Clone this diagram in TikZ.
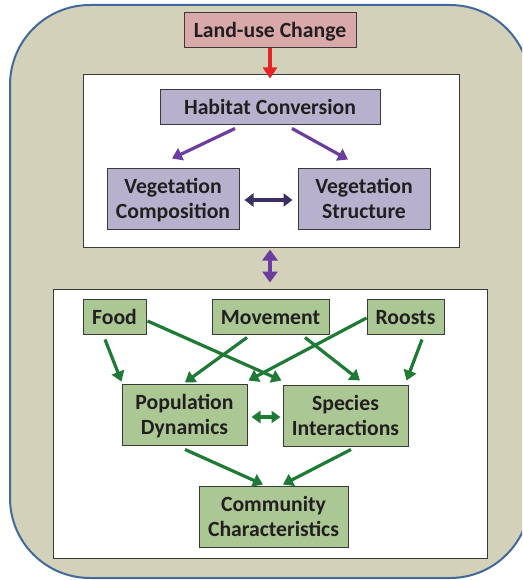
\documentclass[tikz,border=0pt]{standalone}
\usepackage{fontspec}
\setmainfont{Carlito}
\usetikzlibrary{calc,arrows.meta}
\definecolor{bgc}{HTML}{D3D1BA}
\definecolor{bordc}{HTML}{41699A}
\definecolor{pinkc}{HTML}{D9A9A9}
\definecolor{lavc}{HTML}{B8B1CD}
\definecolor{greenc}{HTML}{ABC793}
\definecolor{garc}{HTML}{1F7A35}
\definecolor{purc}{HTML}{6A3D9E}
\definecolor{navc}{HTML}{3A2F60}
\definecolor{redc}{HTML}{E62428}
\definecolor{boxb}{HTML}{3A3A3A}
\definecolor{txtc}{HTML}{231F20}
\newcommand{\boxtext}[1]{\raisebox{-2.5pt}[\height][\depth]{\begin{tabular}{@{}c@{}}#1\end{tabular}}}
\tikzset{
  x=1pt,y=-1pt,
  txt/.style={font=\fontsize{21.7}{25}\selectfont\bfseries, text=txtc, inner sep=0pt},
  gbox/.style={txt, draw=boxb, line width=1pt, fill=greenc},
  pbox/.style={txt, draw=boxb, line width=1pt, fill=lavc},
  wbox/.style={draw=boxb, line width=1pt, fill=white, inner sep=0pt},
  garrow/.style={draw=garc, line width=3.2pt, -{Triangle[length=10pt,width=13pt]}},
  gdarrow/.style={draw=garc, line width=3.2pt, {Triangle[length=9pt,width=12pt]}-{Triangle[length=9pt,width=12pt]}},
  parrow/.style={draw=purc, line width=3.2pt, -{Triangle[length=10pt,width=13pt]}},
}
\begin{document}
\begin{tikzpicture}
\useasboundingbox (0,0) rectangle (522,580);
\begin{scope}
\clip (0,0) rectangle (522,580);
\draw[fill=bgc, draw=bordc, line width=2pt, rounded corners=80pt] (10,5) rectangle (530,578);
\end{scope}
% boxes
\node[wbox, minimum width=376pt, minimum height=172pt] (topbox) at (271,161) {};
\node[wbox, minimum width=434pt, minimum height=269pt] (botbox) at (270,423.5) {};
\node[txt, draw=boxb, line width=1pt, fill=pinkc, minimum width=172pt, minimum height=35pt] (land) at (270,30.5) {\boxtext{Land-use Change}};
\node[pbox, minimum width=220pt, minimum height=35pt] (hab) at (270,107.5) {\boxtext{Habitat Conversion}};
\node[pbox, minimum width=132pt, minimum height=61pt] (vcomp) at (173,198.5) {\boxtext{Vegetation\\Composition}};
\node[pbox, minimum width=132pt, minimum height=61pt] (vstr) at (364,198.5) {\boxtext{Vegetation\\Structure}};
\node[gbox, minimum width=63pt, minimum height=35pt] (food) at (114.5,316.5) {\boxtext{Food}};
\node[gbox, minimum width=117pt, minimum height=35pt] (move) at (270.5,316.5) {\boxtext{Movement}};
\node[gbox, minimum width=77pt, minimum height=35pt] (roost) at (405.5,316.5) {\boxtext{Roosts}};
\node[gbox, minimum width=125pt, minimum height=61pt] (pop) at (184.5,414.5) {\boxtext{Population\\Dynamics}};
\node[gbox, minimum width=125pt, minimum height=61pt] (spec) at (345.5,415.5) {\boxtext{Species\\Interactions}};
\node[gbox, minimum width=149pt, minimum height=61pt] (comm) at (273.5,516.5) {\boxtext{Community\\Characteristics}};
% top arrows
\draw[draw=redc, line width=3.4pt, -{Triangle[length=11pt,width=14pt]}] (land.south) -- ($(land.south |- topbox.north)+(0,4)$);
\draw[parrow] ($(hab.south)+(-35,3)$) -- ($(vcomp.north)+(-1,-9)$);
\draw[parrow] ($(hab.south)+(22,3)$) -- ($(vstr.north)+(-16,-8)$);
\draw[draw=navc, line width=3.2pt, {Triangle[length=9pt,width=13pt]}-{Triangle[length=9pt,width=13pt]}] ($(vcomp.east)+(5,1.5)$) -- ($(vstr.west)+(-5,1.5)$);
\draw[draw=purc, line width=4.5pt, {Triangle[length=11pt,width=15pt]}-{Triangle[length=11pt,width=15pt]}] ($(topbox.south)+(-1,2)$) -- ($(botbox.north)+(0,-6)$);
% green arrows
\draw[garrow] ($(food.south)+(-9.5,5)$) -- ($(pop.north west)+(0,-2)$);
\draw[garrow] ($(food.east)+(1,4.5)$) -- ($(spec.north west)+(-1,-4)$);
\draw[garrow] ($(move.south)+(-23.5,3)$) -- ($(pop.north)+(0.5,-1)$);
\draw[garrow] ($(move.south)+(34.5,3)$) -- ($(spec.north)+(14.5,-4)$);
\draw[garrow] ($(roost.west)+(0,1.5)$) -- ($(pop.north east)+(1,-3)$);
\draw[garrow] ($(roost.south)+(16.5,5)$) -- ($(spec.north east)+(-2,-4)$);
\draw[gdarrow] ($(pop.east)+(4,2.5)$) -- ($(spec.west)+(-2,1.5)$);
\draw[garrow] ($(pop.south)+(0.5,4)$) -- ($(comm.north)+(-10.5,-1)$);
\draw[garrow] ($(spec.south)+(5.5,3)$) -- ($(comm.north)+(9.5,-1)$);
\end{tikzpicture}
\end{document}
